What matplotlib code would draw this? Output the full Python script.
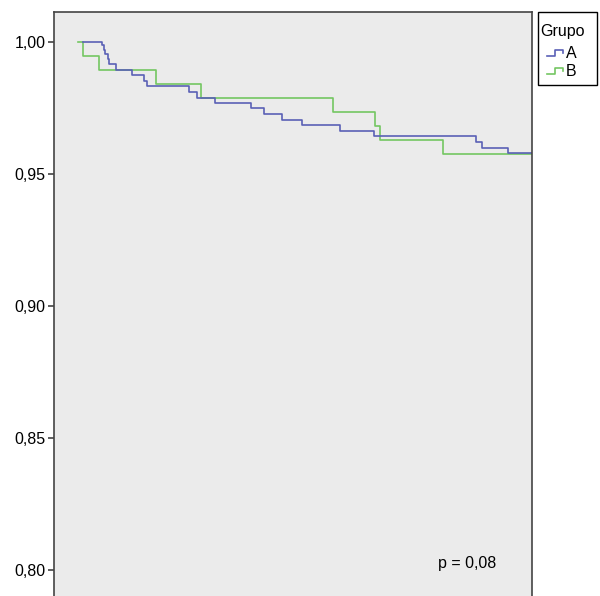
import matplotlib
matplotlib.use("Agg")
import matplotlib.pyplot as plt
from matplotlib.legend_handler import HandlerBase
from matplotlib.lines import Line2D
from matplotlib.patches import Rectangle

plt.rcParams['font.family'] = ['Liberation Sans', 'DejaVu Sans']

# tiempos (unidades arbitrarias) y supervivencia acumulada
times_a = [5, 23.7, 25.5, 27, 29.5, 31, 38, 53.5, 66, 68.5, 110.5, 119, 137.5,
           173, 185.5, 203.5, 223.5, 262, 296, 397.7, 403.7, 430.3, 454]
surv_a = [1.0, 0.9986, 0.9970, 0.9953, 0.9934, 0.9917, 0.9894, 0.9873, 0.9851,
          0.9832, 0.9809, 0.9788, 0.9769, 0.9748, 0.9726, 0.9705, 0.9683,
          0.9662, 0.9642, 0.9621, 0.9598, 0.9578, 0.9578]

times_b = [0, 5.3, 21, 77.7, 122.7, 255.3, 297, 302.5, 365.3, 454]
surv_b = [1.0, 0.9947, 0.9894, 0.9841, 0.9788, 0.9734, 0.9680, 0.9628, 0.9573, 0.9573]

groups = ['A', 'B']
colors = {'A': '#5a60b6', 'B': '#74c662'}
yticks = [0.80, 0.85, 0.90, 0.95, 1.00]
p_label = 'p = 0,08'


class StepHandler(HandlerBase):
    # icono de escalon, un poco sangrado respecto al titulo
    def create_artists(self, legend, orig_handle, xdescent, ydescent,
                       width, height, fontsize, trans):
        x0, w, h = -xdescent, width, height
        xs = [x0 + 0.3 * w, x0 + 0.62 * w, x0 + 0.62 * w, x0 + 0.95 * w, x0 + 0.95 * w]
        ys = [0.2 * h, 0.2 * h, 0.75 * h, 0.75 * h, 0.45 * h]
        ys = [y - ydescent for y in ys]
        line = Line2D(xs, ys, color=orig_handle.get_color(),
                      lw=orig_handle.get_linewidth(), transform=trans)
        return [line]


fig = plt.figure(figsize=(6.0, 5.96), dpi=100)
W, H = 600, 596
ax = fig.add_axes([54 / W, -12 / H, 478 / W, 596 / H])
ax.set_facecolor('#ebebeb')

ax.step(times_b, surv_b, where='post', color=colors['B'], lw=1.2)
ax.step(times_a, surv_a, where='post', color=colors['A'], lw=1.2)

ax.set_xlim(-24, 454)
ax.set_ylim(0.78549, 1.01125)
ax.set_yticks(yticks)
ax.set_yticklabels([f'{v:.2f}'.replace('.', ',') for v in yticks], fontsize=11.5)
ax.set_xticks([])
ax.tick_params(axis='y', length=4, width=1.1, color='#333333', pad=2)
for s in ax.spines.values():
    s.set_color('#444444')
    s.set_linewidth(1.2)

ax.text(389, 0.8025, p_label, ha='center', va='center', fontsize=11.5)

# leyenda: marco fijo y contenido sin marco
fig.patches.append(Rectangle((538 / W, 1 - 85 / H), 59 / W, 73 / H,
                             transform=fig.transFigure, fill=False,
                             edgecolor='black', lw=1.0))
handles = [Line2D([], [], color=colors[g], lw=1.2) for g in groups]
leg = fig.legend(handles, groups, title='Grupo', loc='upper left',
                 bbox_to_anchor=(540 / W, 1 - 24 / H), frameon=False,
                 fontsize=11.5, title_fontsize=11.5,
                 handler_map={Line2D: StepHandler()}, handlelength=1.5,
                 handletextpad=0.1, borderpad=0.0, labelspacing=0.2,
                 borderaxespad=0)
leg._legend_box.align = 'left'
leg._legend_box.sep = 5

fig.savefig('out.png', dpi=100)
